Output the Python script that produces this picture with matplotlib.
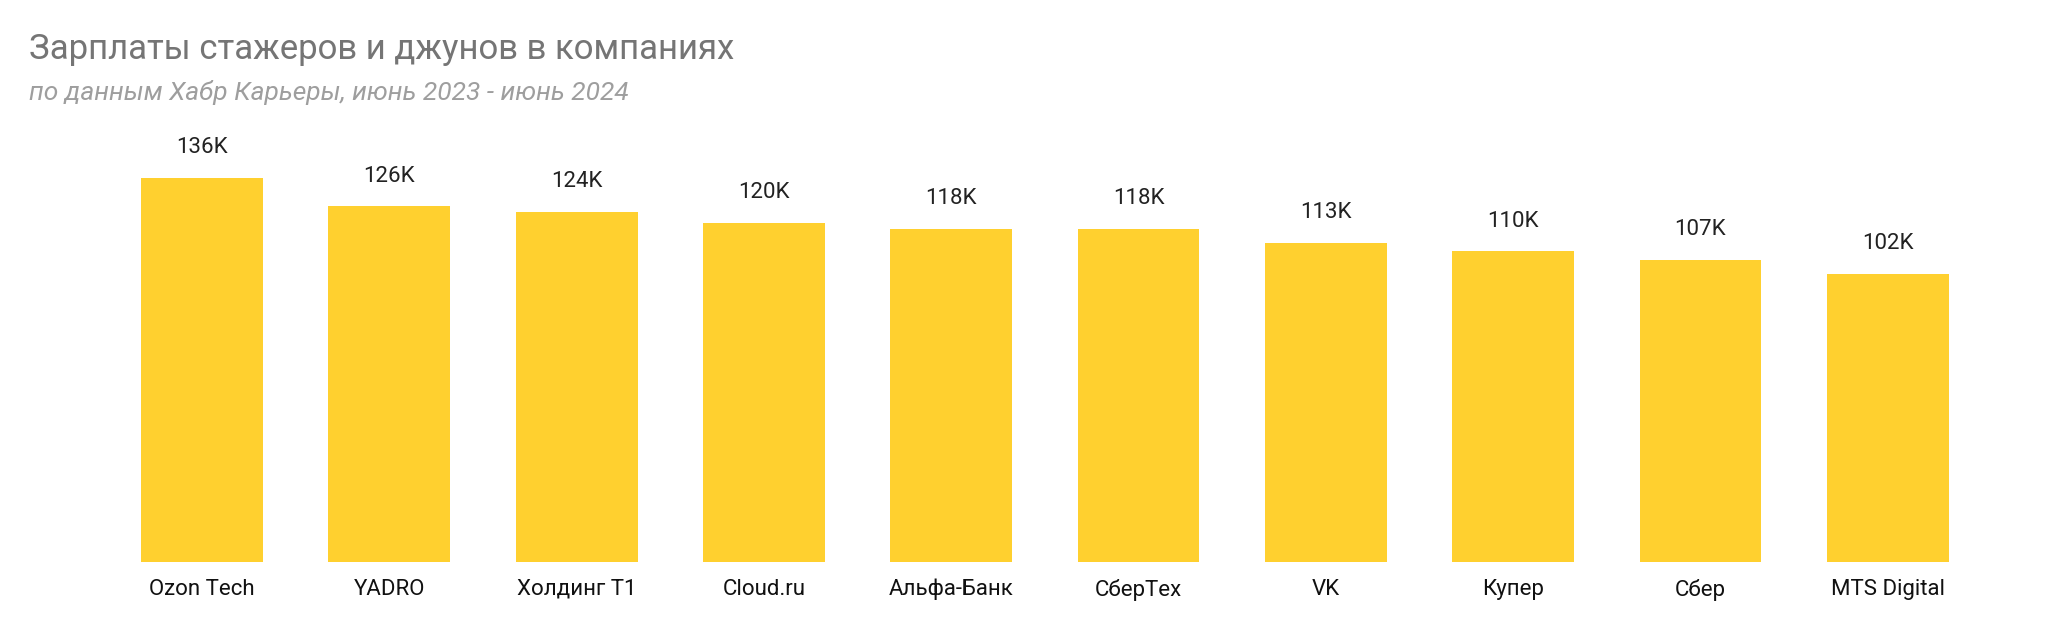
import matplotlib.pyplot as plt

plt.rcParams['font.family'] = ['Roboto', 'DejaVu Sans']

companies = ['Ozon Tech', 'YADRO', 'Холдинг Т1', 'Cloud.ru', 'Альфа-Банк',
             'СберТех', 'VK', 'Купер', 'Сбер', 'MTS Digital']
salaries = [136, 126, 124, 120, 118, 118, 113, 110, 107, 102]

W, H = 1568, 479  # reference layout measured in this scale

fig = plt.figure(figsize=(20.48, 6.26), dpi=100)
ax = fig.add_axes([83 / W, 1 - 430 / H, (1517 - 83) / W, (430 - 106) / H])

ax.bar(range(len(companies)), salaries, width=0.65, color='#FFD02F')
for i, v in enumerate(salaries):
    ax.text(i, v + 7, f'{v}K', ha='center', va='bottom', fontsize=16, color='#222222')

ax.set_xlim(-0.5, len(companies) - 0.5)
ax.set_ylim(0, 150)
ax.set_xticks(range(len(companies)))
ax.set_xticklabels(companies, fontsize=16, color='#111111')
ax.tick_params(axis='x', length=0, pad=12)
ax.set_yticks([])
for s in ax.spines.values():
    s.set_visible(False)

fig.text(22 / W, 1 - 38 / H, 'Зарплаты стажеров и джунов в компаниях',
         fontsize=25, color='#757575', va='center')
fig.text(22 / W, 1 - 71 / H, 'по данным Хабр Карьеры, июнь 2023 - июнь 2024',
         fontsize=19, color='#9e9e9e', style='italic', va='center')

plt.savefig('out.png', dpi=100)
